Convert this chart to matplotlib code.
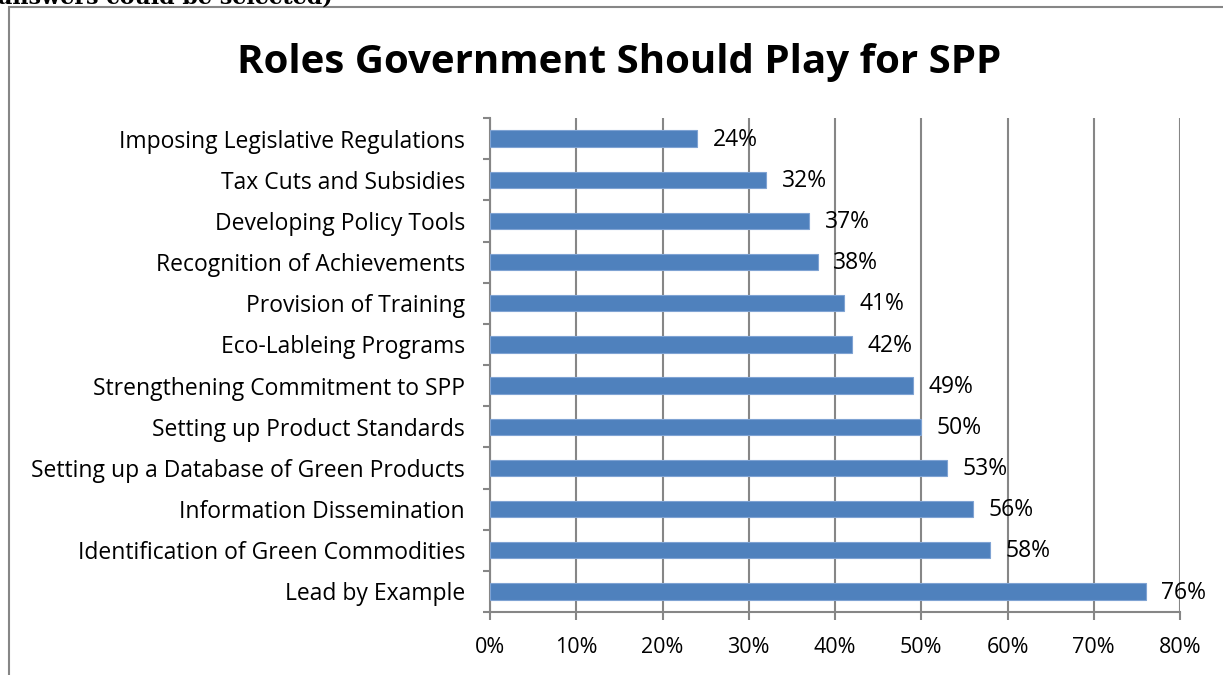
import matplotlib
matplotlib.use("Agg")
import matplotlib.pyplot as plt
import numpy as np
from matplotlib.ticker import FixedLocator, FuncFormatter

categories = [
    "Imposing Legislative Regulations",
    "Tax Cuts and Subsidies",
    "Developing Policy Tools",
    "Recognition of Achievements",
    "Provision of Training",
    "Eco-Lableing Programs",
    "Strengthening Commitment to SPP",
    "Setting up Product Standards",
    "Setting up a Database of Green Products",
    "Information Dissemination",
    "Identification of Green Commodities",
    "Lead by Example",
]
values = [24, 32, 37, 38, 41, 42, 49, 50, 53, 56, 58, 76]
xticks = [0, 10, 20, 30, 40, 50, 60, 70, 80]

GRAY = "#868686"
BAR = "#4F81BD"
FONT = "Open Sans"

fig = plt.figure(figsize=(12.23, 6.75), dpi=100)
W, H = 1223, 675

# frame around chart
frame = plt.Rectangle((9 / W, -0.1), 1.2, 1 - 7 / H + 0.1, transform=fig.transFigure,
                      fill=False, edgecolor=GRAY, linewidth=1.5)
fig.add_artist(frame)

# cropped caption text at top (as in the source image)
fig.text(-0.002, 1 + 2 / H, "answers could be selected)", fontsize=16, fontweight="bold",
         family="DejaVu Serif", ha="left", va="center", color="black")

ax = fig.add_axes([490 / W, 1 - 612 / H, (1180 - 490) / W, (612 - 118) / H])

n = len(categories)
ypos = np.arange(n)[::-1]
ax.barh(ypos, values, height=0.4, color=BAR, edgecolor="#7FA3D3", linewidth=0.8, zorder=3)
for y, v in zip(ypos, values):
    ax.text(v + 1.8, y - 0.03, f"{v}%", va="center", ha="left", fontsize=16.5, family=FONT, zorder=4)

ax.set_xlim(0, 80)
ax.set_ylim(-0.5, n - 0.5)
ax.xaxis.set_major_locator(FixedLocator(xticks))
ax.xaxis.set_major_formatter(FuncFormatter(lambda x, p: f"{int(x)}%"))
ax.set_yticks(ypos)
ax.set_yticklabels(categories)
ax.yaxis.set_minor_locator(FixedLocator(np.arange(-0.5, n, 1.0)))
ax.tick_params(axis="y", which="major", length=0, pad=18, labelsize=16.5)
ax.tick_params(axis="y", which="minor", length=5, color=GRAY, width=1.5)
ax.tick_params(axis="x", which="major", length=6, color=GRAY, width=1.5, pad=12, labelsize=15.5)
for lab in ax.get_xticklabels() + ax.get_yticklabels():
    lab.set_family(FONT)

ax.grid(axis="x", color=GRAY, linewidth=1.5, zorder=0)
ax.set_axisbelow(True)
for s in ["top", "right"]:
    ax.spines[s].set_visible(False)
for s in ["left", "bottom"]:
    ax.spines[s].set_color(GRAY)
    ax.spines[s].set_linewidth(1.5)

fig.text(619 / W, 1 - 62 / H, "Roles Government Should Play for SPP", fontsize=29,
         fontweight="bold", family=FONT, ha="center", va="center")

fig.savefig("out.png", dpi=100)
